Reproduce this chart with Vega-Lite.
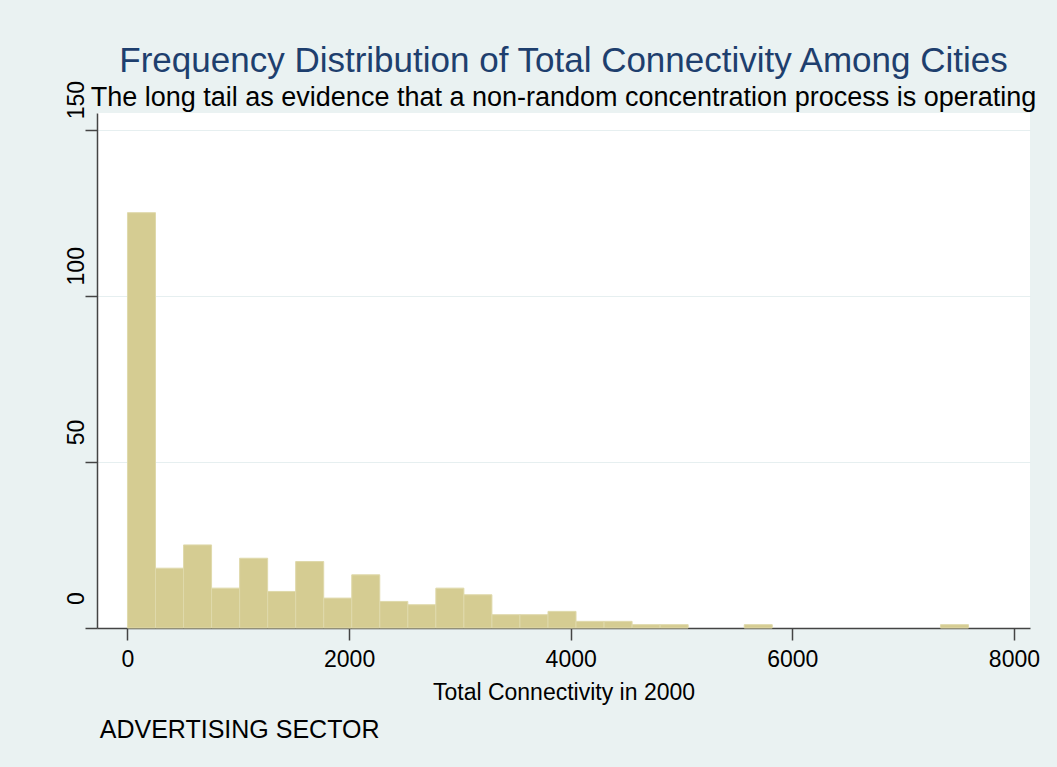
{
  "$schema": "https://vega.github.io/schema/vega-lite/v6.json",
  "autosize": {"type": "none"},
  "width": 933,
  "height": 515,
  "padding": {"left": 97, "top": 113, "right": 27, "bottom": 139},
  "background": "#eaf2f2",
  "config": {
    "font": "Liberation Sans",
    "view": {"fill": "#ffffff", "stroke": null}
  },
  "title": {
    "text": "Frequency Distribution of Total Connectivity Among Cities",
    "subtitle": "The long tail as evidence that a non-random concentration process is operating",
    "anchor": "middle",
    "frame": "group",
    "font": "Liberation Sans",
    "fontSize": 35,
    "fontWeight": "normal",
    "color": "#1e3f6e",
    "subtitleFont": "Liberation Sans",
    "subtitleFontSize": 27,
    "subtitleColor": "#000000",
    "subtitlePadding": 6,
    "offset": -31
  },
  "datasets": {
    "bins": [
      {"lo": 0, "hi": 253, "cities": 125},
      {"lo": 253, "hi": 506, "cities": 18},
      {"lo": 506, "hi": 759, "cities": 25},
      {"lo": 759, "hi": 1012, "cities": 12},
      {"lo": 1012, "hi": 1265, "cities": 21},
      {"lo": 1265, "hi": 1518, "cities": 11},
      {"lo": 1518, "hi": 1771, "cities": 20},
      {"lo": 1771, "hi": 2024, "cities": 9},
      {"lo": 2024, "hi": 2277, "cities": 16},
      {"lo": 2277, "hi": 2530, "cities": 8},
      {"lo": 2530, "hi": 2783, "cities": 7},
      {"lo": 2783, "hi": 3036, "cities": 12},
      {"lo": 3036, "hi": 3289, "cities": 10},
      {"lo": 3289, "hi": 3542, "cities": 4},
      {"lo": 3542, "hi": 3795, "cities": 4},
      {"lo": 3795, "hi": 4048, "cities": 5},
      {"lo": 4048, "hi": 4301, "cities": 2},
      {"lo": 4301, "hi": 4554, "cities": 2},
      {"lo": 4554, "hi": 4807, "cities": 1},
      {"lo": 4807, "hi": 5060, "cities": 1},
      {"lo": 5566, "hi": 5819, "cities": 1},
      {"lo": 7337, "hi": 7590, "cities": 1}
    ],
    "note": [{"label": "ADVERTISING SECTOR"}]
  },
  "layer": [
    {
      "data": {"name": "bins"},
      "mark": {"type": "rect", "fill": "#d5cc92", "stroke": "#dfd9ab", "strokeWidth": 1},
      "encoding": {
        "x": {
          "field": "lo",
          "type": "quantitative",
          "scale": {"domain": [-275, 8145], "nice": false, "zero": false},
          "axis": {
            "values": [0, 2000, 4000, 6000, 8000],
            "format": "d",
            "title": "Total Connectivity in 2000",
            "grid": false,
            "domainColor": "#444444",
            "domainWidth": 1.5,
            "tickColor": "#444444",
            "tickWidth": 1.5,
            "tickSize": 12,
            "labelFontSize": 23,
            "labelColor": "#000000",
            "labelPadding": 8,
            "labelFlush": false,
            "titleFontSize": 23,
            "titleFontWeight": "normal",
            "titleColor": "#000000",
            "titlePadding": 10
          }
        },
        "x2": {"field": "hi"},
        "y": {
          "field": "cities",
          "type": "quantitative",
          "scale": {"domain": [0, 155], "nice": false},
          "axis": {
            "values": [0, 50, 100, 150],
            "format": "d",
            "title": null,
            "grid": true,
            "gridColor": "#e6eff0",
            "gridWidth": 1,
            "domainColor": "#444444",
            "domainWidth": 1.5,
            "tickColor": "#444444",
            "tickWidth": 1.5,
            "tickSize": 12,
            "labelAngle": 270,
            "labelAlign": "center",
            "labelBaseline": "alphabetic",
            "labelOffset": -30,
            "labelPadding": 2,
            "labelFontSize": 23,
            "labelColor": "#000000",
            "labelFlush": false
          }
        },
        "y2": {"datum": 0}
      }
    },
    {
      "data": {"name": "note"},
      "mark": {"type": "text", "align": "left", "baseline": "alphabetic", "fontSize": 25, "color": "#000000"},
      "encoding": {
        "x": {"datum": -250, "type": "quantitative"},
        "y": {"datum": -33, "type": "quantitative"},
        "text": {"field": "label"}
      }
    }
  ]
}
